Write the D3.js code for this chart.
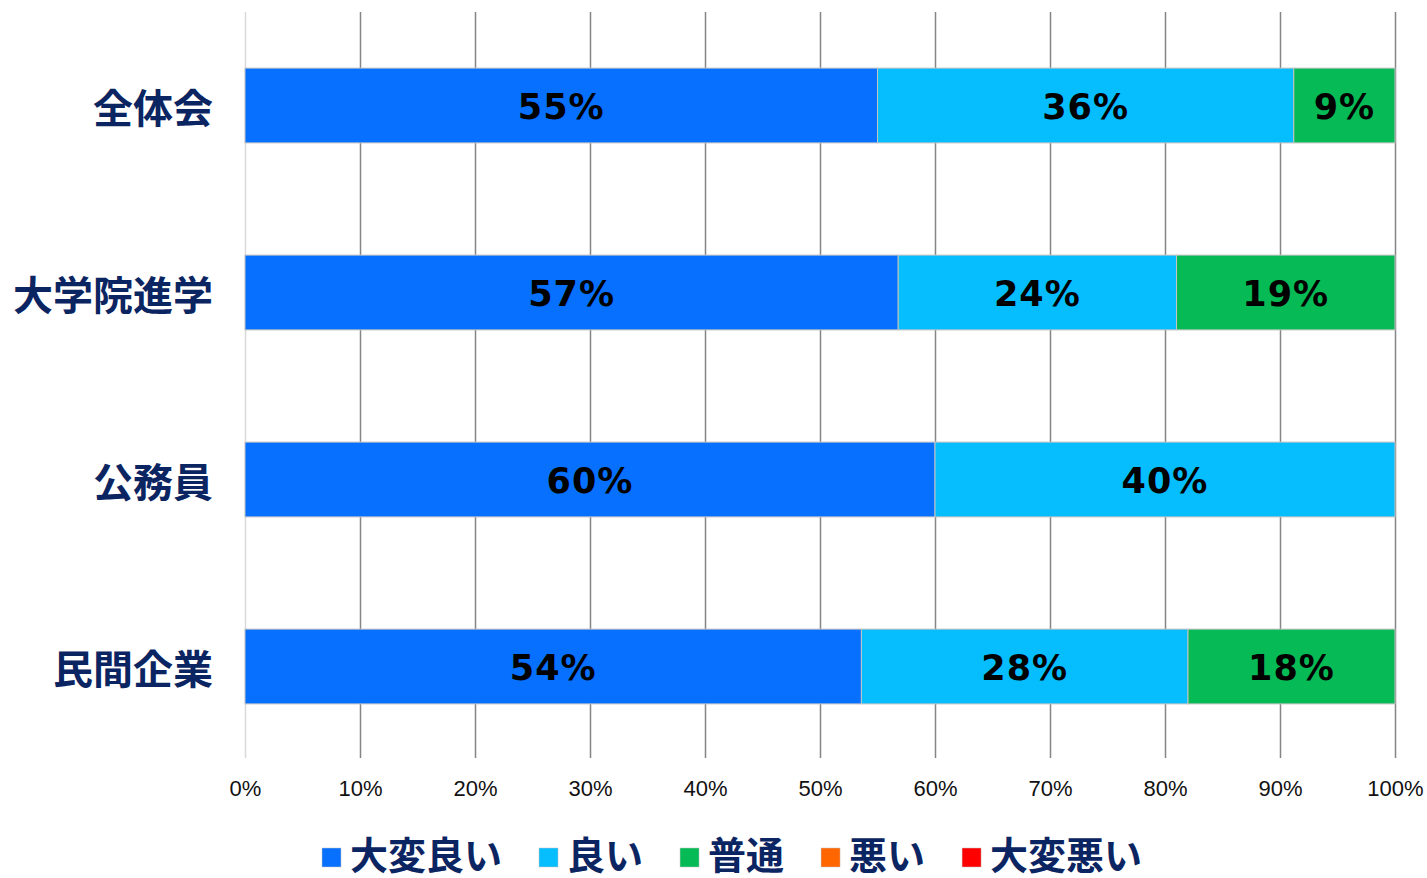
<!DOCTYPE html>
<html>
<head>
<meta charset="utf-8">
<script src="https://cdn.jsdelivr.net/npm/d3@7"></script>
<style>
  body { margin: 0; background: #fff; }
</style>
</head>
<body>
<div id="chart"></div>
<script>
// categories (top to bottom) and series, values in %
var categories = ['全体会', '大学院進学', '公務員', '民間企業'];
var seriesNames = ['大変良い', '良い', '普通', '悪い', '大変悪い'];
var seriesColors = ['#0770fe', '#06bdfe', '#06bb56', '#ff6600', '#ff0000'];

var veryGood = [55.0, 56.8, 60.0, 53.6];
var good     = [36.2, 24.2, 40.0, 28.4];
var normal   = [8.8, 19.0, 0, 18.0];
var bad      = [0, 0, 0, 0];
var veryBad  = [0, 0, 0, 0];

var tickValues = [0, 10, 20, 30, 40, 50, 60, 70, 80, 90, 100];

var W = 1427, H = 878;
var plot = {left: 245, right: 1395, top: 12, bottom: 758};
var navy = '#0b2562';

var svg = d3.select('#chart').append('svg')
    .attr('width', W)
    .attr('height', H);

var x = d3.scaleLinear()
    .domain([0, 100])
    .range([plot.left, plot.right]);

var y = d3.scaleBand()
    .domain(categories)
    .range([plot.top, plot.bottom + 2])
    .paddingInner(0.6)
    .paddingOuter(0.3);

// grid + x tick labels
var xAxis = svg.append('g')
    .attr('transform', 'translate(0,' + plot.bottom + ')')
    .call(d3.axisBottom(x)
        .tickValues(tickValues)
        .tickFormat(function(d) { return d + '%'; })
        .tickSizeInner(-(plot.bottom - plot.top))
        .tickSizeOuter(0)
        .tickPadding(22));
xAxis.select('.domain').remove();
xAxis.selectAll('line')
    .attr('stroke', function(d) { return d == 0 ? '#d9d9d9' : '#858585'; })
    .attr('stroke-width', 1.5);
xAxis.selectAll('text')
    .attr('fill', '#111')
    .style('font-family', '"Liberation Sans", Arial, sans-serif')
    .style('font-size', '22px');

// y labels
var yAxis = svg.append('g')
    .attr('transform', 'translate(' + plot.left + ',0)')
    .call(d3.axisLeft(y).tickSize(0).tickPadding(32));
yAxis.select('.domain').remove();
yAxis.selectAll('text')
    .attr('fill', navy)
    .attr('dy', null)
    .attr('dominant-baseline', 'central')
    .style('font-family', '"Noto Sans CJK JP", sans-serif')
    .style('font-weight', 'bold')
    .style('font-size', '40px');

// stack the series
var rows = categories.map(function(c, i) {
    return {cat: c, '大変良い': veryGood[i], '良い': good[i], '普通': normal[i], '悪い': bad[i], '大変悪い': veryBad[i]};
});
var stacked = d3.stack().keys(seriesNames)(rows);

var layers = svg.selectAll('.layer')
    .data(stacked)
    .enter()
    .append('g')
    .attr('class', 'layer')
    .attr('fill', function(d, i) { return seriesColors[i]; });

layers.selectAll('rect')
    .data(function(d) { return d; })
    .enter()
    .append('rect')
    .attr('x', function(d) { return x(d[0]); })
    .attr('y', function(d) { return y(d.data.cat); })
    .attr('width', function(d) { return x(d[1]) - x(d[0]); })
    .attr('height', y.bandwidth())
    .attr('stroke', function(d) { return d[1] > d[0] ? '#c4c4c4' : 'none'; })
    .attr('stroke-width', 1);

// value labels
layers.selectAll('text')
    .data(function(d) { return d.filter(function(s) { return s[1] - s[0] > 0; }); })
    .enter()
    .append('text')
    .attr('x', function(d) { return (x(d[0]) + x(d[1])) / 2; })
    .attr('y', function(d) { return y(d.data.cat) + y.bandwidth() / 2 + 13; })
    .attr('text-anchor', 'middle')
    .attr('fill', '#000')
    .style('font-family', '"DejaVu Sans", sans-serif')
    .style('font-weight', 'bold')
    .style('font-size', '35px')
    .style('letter-spacing', '1px')
    .text(function(d) { return Math.round(d[1] - d[0]) + '%'; });

// legend (kept just inside the bottom edge)
var legend = svg.append('g');
var lx = 322, ly = 852;
seriesNames.forEach(function(name, i) {
    legend.append('rect')
        .attr('x', lx)
        .attr('y', ly - 4)
        .attr('width', 19)
        .attr('height', 19)
        .attr('fill', seriesColors[i])
        .attr('stroke', '#c4c4c4')
        .attr('stroke-width', 0.5);
    var t = legend.append('text')
        .attr('x', lx + 28)
        .attr('y', ly)
        .attr('dominant-baseline', 'central')
        .attr('fill', navy)
        .style('font-family', '"Noto Sans CJK JP", sans-serif')
        .style('font-weight', 'bold')
        .style('font-size', '38px')
        .text(name);
    lx += 28 + t.node().getComputedTextLength() + 37;
});
</script>
</body>
</html>
